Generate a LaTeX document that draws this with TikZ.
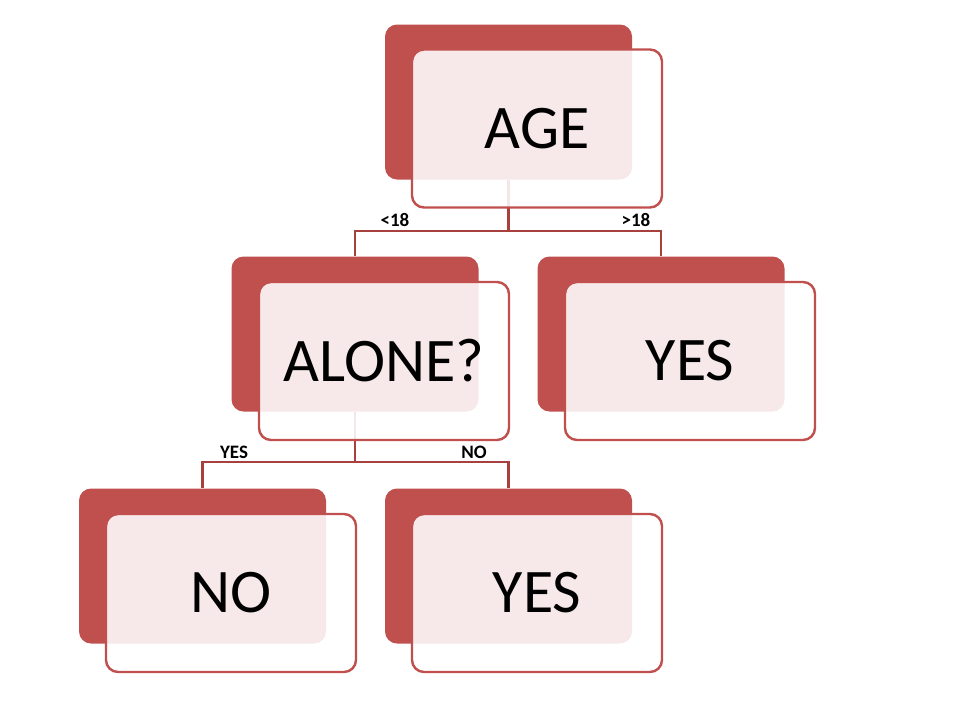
\documentclass[tikz,border=0pt]{standalone}
\usepackage{fontspec}
\setmainfont{Carlito}
\definecolor{boxred}{RGB}{192,80,77}
\definecolor{linkred}{RGB}{168,64,61}

\begin{document}
\begin{tikzpicture}[x=1pt, y=-1pt,
    back/.style={rectangle, rounded corners=12pt, fill=boxred, minimum width=247pt, minimum height=155pt, inner sep=0pt},
    front/.style={rectangle, rounded corners=12pt, draw=boxred, line width=2.4pt, fill=white, fill opacity=0.88, text opacity=1, minimum width=250pt, minimum height=158pt, inner sep=0pt, font=\fontsize{62}{70}\selectfont},
    link/.style={draw=linkred, line width=2.8pt},
    cut/.style={inner sep=1pt, font=\bfseries\fontsize{19}{22}\selectfont}]
    \useasboundingbox (0,0) rectangle (974,705);

    % back plates
    \node[back] (backAge) at (508.5, 102) {};
    \node[back] (backAlone) at (355, 334) {};
    \node[back] (backYesA) at (661, 334) {};
    \node[back] (backNo) at (202.5, 566) {};
    \node[back] (backYesB) at (508.5, 566) {};

    % branches
    \coordinate (ageFork) at (508.5, 231);
    \coordinate (aloneFork) at (355, 462);
    \draw[link] (backAge.south) -- (ageFork);
    \draw[link] (backAlone.north) |- (ageFork) -| (backYesA.north);
    \draw[link] (backAlone.south) -- (aloneFork);
    \draw[link] (backNo.north) |- (aloneFork) -| (backYesB.north);

    \node[cut] (under) at (395, 220) {<18};
    \node[cut] (over) at (636, 220) {>18};
    \node[cut] (alYes) at (234, 452) {YES};
    \node[cut] (alNo) at (474, 452) {NO};

    % front cards
    \node[front] (age) at (537, 128.5) {AGE};
    \node[front] (alone) at (384, 361) {ALONE?};
    \node[front] (yesA) at (690, 361) {YES};
    \node[front] (no) at (231, 593) {NO};
    \node[front] (yesB) at (537, 593) {YES};

\end{tikzpicture}
\end{document}
